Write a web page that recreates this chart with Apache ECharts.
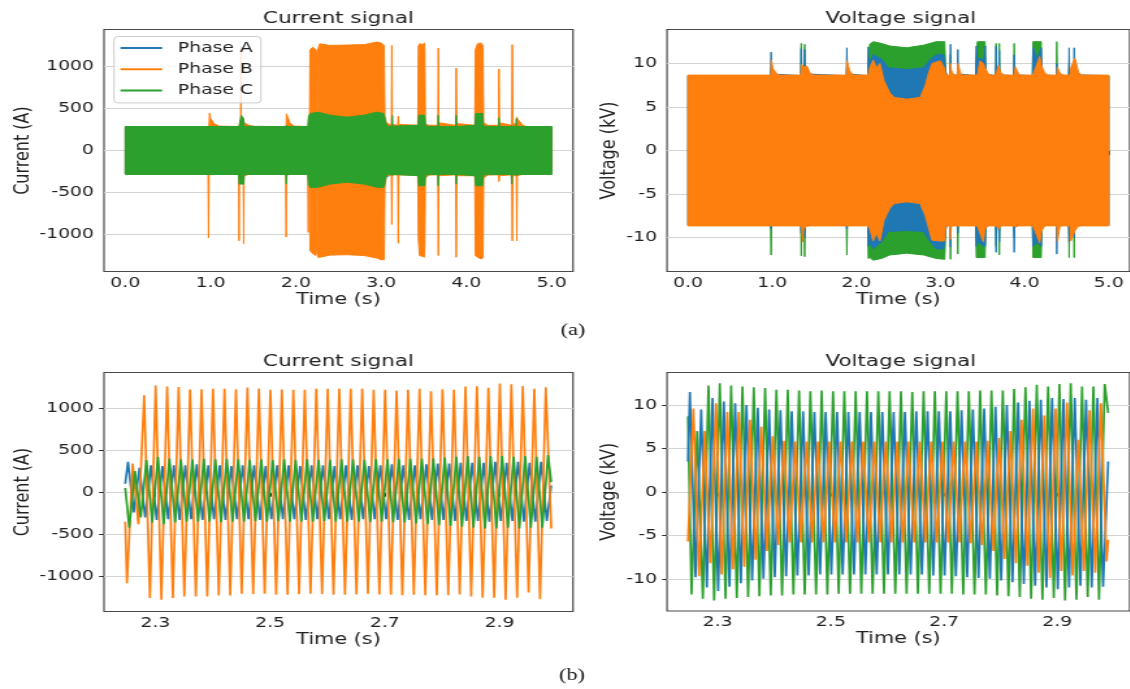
<!DOCTYPE html>
<html>
<head>
<meta charset="utf-8">
<script src="https://cdn.jsdelivr.net/npm/echarts@6/dist/echarts.min.js"></script>
<style>
  html, body { margin: 0; padding: 0; background: #fff; overflow: hidden; width: 1130px; height: 689px; }
  /* the figure is laid out narrow and widened horizontally as a whole */
  #chart { width: 869.23px; height: 689px; transform: scaleX(1.3); transform-origin: 0 0; }
</style>
</head>
<body>
<div id="chart"></div>
<script>
// ---------------- data ----------------
const PHASES = ['Phase A', 'Phase B', 'Phase C'];
const TIME_TICKS_FULL = [0, 1, 2, 3, 4, 5];
const TIME_TICKS_ZOOM = [2.3, 2.5, 2.7, 2.9];
const CURRENT_TICKS = [-1000, -500, 0, 500, 1000];
const VOLTAGE_TICKS = [-10, -5, 0, 5, 10];

// (a) whole record, 0-5 s: envelope of each phase as [time s, upper, lower]
const curA_env = [
  [0.000, 275, -275], [2.150, 275, -275], [2.170, 350, -350], [3.030, 350, -350],
  [3.060, 300, -310], [3.100, 275, -300], [3.120, 275, -275], [5.000, 275, -275]
];
const curB_env = [
  [0.000, 280, -280], [0.970, 280, -280], [0.976, 290, -1040], [0.982, 290, -285], [0.988, 445, -285],
  [1.000, 380, -285], [1.040, 320, -280], [1.100, 290, -280],
  [1.330, 285, -280], [1.334, 290, -1075], [1.338, 300, -300], [1.352, 380, -300], [1.356, 1230, -300],
  [1.360, 400, -300], [1.383, 380, -320], [1.388, 360, -1110], [1.393, 330, -300], [1.450, 300, -285], [1.520, 285, -280],
  [1.880, 285, -280], [1.886, 300, -1030], [1.890, 437, -290], [1.930, 330, -285], [1.980, 290, -280],
  [2.140, 285, -280], [2.146, 300, -975], [2.150, 400, -300], [2.160, 380, -300], [2.166, 1200, -1190],
  [2.200, 1230, -1230], [2.236, 1200, -1250], [2.242, 1180, -1200], [2.246, 300, -300], [2.252, 300, -300],
  [2.258, 1200, -1270], [2.280, 1270, -1270], [2.400, 1250, -1245], [2.600, 1255, -1240], [2.800, 1260, -1250],
  [2.950, 1290, -1280], [3.000, 1280, -1300], [3.036, 1250, -1300], [3.044, 420, -450], [3.060, 330, -300], [3.120, 300, -290],
  [3.125, 1250, -881], [3.131, 310, -290], [3.195, 300, -290], [3.201, 410, -1103], [3.207, 310, -290], [3.430, 300, -290],
  [3.436, 1240, -1050], [3.450, 1270, -1250], [3.490, 1260, -1260], [3.506, 1280, -1270], [3.512, 1200, -1100],
  [3.518, 320, -330], [3.560, 300, -290],
  [3.665, 300, -290], [3.671, 1220, -1250], [3.677, 330, -300], [3.875, 300, -290], [3.881, 980, -1270], [3.887, 320, -300],
  [4.098, 300, -300], [4.105, 1200, -1250], [4.130, 1270, -1270], [4.170, 1280, -1290], [4.195, 1250, -1280],
  [4.202, 330, -330], [4.250, 300, -290],
  [4.376, 300, -290], [4.382, 970, -370], [4.388, 330, -300],
  [4.532, 300, -290], [4.538, 1260, -1075], [4.544, 330, -300], [4.585, 300, -300], [4.591, 400, -1075],
  [4.597, 380, -300], [4.650, 310, -285], [4.700, 285, -280], [5.000, 280, -280]
];
const curC_env = [
  [0.000, 285, -285], [1.330, 285, -285], [1.336, 300, -400], [1.360, 417, -400], [1.386, 380, -400],
  [1.394, 300, -300], [1.400, 288, -285],
  [1.884, 285, -285], [1.890, 300, -397], [1.896, 285, -285],
  [2.140, 285, -285], [2.150, 410, -410], [2.170, 440, -440], [2.260, 456, -437], [2.400, 420, -400],
  [2.600, 397, -377], [2.800, 420, -400], [2.950, 456, -437], [3.030, 440, -440], [3.050, 350, -350], [3.070, 290, -285],
  [3.124, 290, -285], [3.130, 417, -300], [3.136, 290, -285],
  [3.434, 300, -300], [3.440, 420, -420], [3.510, 420, -420], [3.520, 290, -290],
  [3.665, 285, -285], [3.671, 420, -420], [3.677, 285, -285],
  [3.875, 285, -285], [3.881, 420, -400], [3.887, 285, -285],
  [4.100, 300, -300], [4.110, 440, -420], [4.190, 440, -420], [4.200, 290, -290],
  [4.376, 285, -285], [4.382, 390, -290], [4.388, 285, -285],
  [4.526, 285, -285], [4.532, 300, -400], [4.538, 285, -285],
  [4.580, 285, -285], [4.586, 380, -300], [4.592, 285, -285],
  [5.000, 285, -285]
];

const volA_env = [
  [0.000, 8.6, -8.6],
  [0.981, 8.6, -8.6], [0.987, 11.3, -9.0], [0.993, 8.8, -8.6],
  [1.338, 8.6, -8.6], [1.344, 11.7, -9.5], [1.350, 9.0, -8.6], [1.380, 9.0, -8.6], [1.386, 11.6, -10.0], [1.392, 8.8, -8.6],
  [1.882, 8.6, -8.6], [1.888, 11.8, -9.0], [1.894, 8.8, -8.6],
  [2.136, 8.6, -8.6], [2.142, 11.9, -11.0], [2.150, 10.0, -10.5], [2.200, 11.0, -11.3], [2.300, 10.5, -10.5],
  [2.380, 9.5, -9.3], [2.600, 9.3, -9.2], [2.800, 9.5, -9.3], [2.880, 10.5, -10.5], [2.950, 11.0, -11.3],
  [3.040, 11.0, -11.3], [3.060, 9.0, -9.0], [3.080, 8.6, -8.6],
  [3.114, 8.6, -8.6], [3.120, 12.2, -11.1], [3.126, 8.8, -8.6], [3.201, 8.6, -8.6], [3.207, 11.6, -9.5], [3.213, 8.8, -8.6],
  [3.420, 8.6, -8.6], [3.427, 12.0, -11.0], [3.440, 10.5, -10.5], [3.520, 10.5, -11.0], [3.533, 12.0, -11.0], [3.540, 8.8, -8.6],
  [3.656, 8.6, -8.6], [3.662, 12.0, -11.7], [3.668, 9.0, -8.8], [3.694, 8.6, -8.6], [3.700, 11.5, -10.5], [3.706, 8.7, -8.6],
  [3.871, 8.6, -8.6], [3.877, 11.0, -11.7], [3.883, 8.7, -8.6],
  [4.094, 8.6, -8.6], [4.100, 11.8, -11.0], [4.150, 10.5, -10.5], [4.198, 11.8, -11.0], [4.205, 8.7, -8.6],
  [4.377, 8.6, -8.6], [4.383, 10.0, -11.9], [4.389, 8.7, -8.6],
  [4.524, 8.6, -8.6], [4.530, 11.8, -10.5], [4.536, 8.7, -8.6], [4.584, 8.6, -8.6], [4.590, 11.8, -10.0], [4.596, 8.7, -8.6],
  [5.000, 8.6, -8.6]
];
const volB_env = [
  [0.000, 8.66, -8.66],
  [0.984, 8.66, -8.66], [0.990, 10.4, -8.66], [1.010, 9.4, -8.66], [1.050, 8.85, -8.66], [1.080, 8.66, -8.66],
  [1.340, 8.66, -8.66], [1.350, 9.9, -8.8], [1.366, 9.7, -10.5], [1.372, 9.6, -9.0], [1.413, 9.7, -8.7],
  [1.450, 8.9, -8.66], [1.490, 8.66, -8.66],
  [1.884, 8.66, -8.66], [1.890, 10.3, -8.66], [1.920, 9.2, -8.66], [1.960, 8.66, -8.66],
  [2.140, 8.66, -8.66], [2.160, 9.5, -9.0], [2.200, 10.4, -10.4], [2.240, 9.5, -9.5], [2.280, 10.0, -10.4],
  [2.330, 8.0, -8.0], [2.400, 6.6, -6.6], [2.450, 6.1, -6.1], [2.600, 5.9, -5.9], [2.760, 6.1, -6.1],
  [2.820, 7.5, -7.5], [2.860, 8.9, -8.9], [2.900, 10.0, -10.3], [3.000, 10.3, -10.4], [3.045, 9.5, -10.4],
  [3.060, 8.8, -8.8], [3.090, 8.66, -8.66],
  [3.114, 8.66, -8.66], [3.120, 10.0, -10.2], [3.130, 9.2, -8.7], [3.160, 8.66, -8.66],
  [3.200, 8.66, -8.66], [3.207, 10.0, -8.7], [3.240, 8.8, -8.66], [3.270, 8.66, -8.66],
  [3.440, 8.66, -8.66], [3.470, 10.3, -9.5], [3.510, 10.0, -10.5], [3.530, 9.5, -9.0], [3.570, 8.8, -8.66], [3.600, 8.66, -8.66],
  [3.660, 8.66, -8.66], [3.690, 9.8, -9.0], [3.720, 8.9, -8.66], [3.760, 8.66, -8.66],
  [3.877, 8.66, -8.66], [3.890, 9.6, -8.8], [3.930, 8.8, -8.66], [3.960, 8.66, -8.66],
  [4.100, 8.66, -8.66], [4.180, 10.8, -10.6], [4.200, 9.8, -9.3], [4.240, 8.9, -8.66], [4.280, 8.66, -8.66],
  [4.383, 8.66, -8.66], [4.390, 9.6, -10.5], [4.420, 8.9, -8.7], [4.460, 8.66, -8.66],
  [4.545, 8.66, -8.66], [4.550, 9.5, -10.4], [4.600, 10.6, -9.2], [4.640, 9.0, -8.7], [4.680, 8.66, -8.66],
  [5.000, 8.66, -8.66]
];
const volC_env = [
  [0.000, 8.6, -8.6],
  [0.981, 8.6, -8.6], [0.987, 9.5, -12.0], [0.993, 8.6, -8.6],
  [1.340, 8.6, -8.6], [1.346, 12.3, -12.1], [1.352, 9.0, -9.0], [1.380, 9.0, -9.0], [1.386, 12.2, -12.2], [1.392, 8.6, -8.6],
  [1.882, 8.6, -8.6], [1.888, 9.5, -12.0], [1.894, 8.6, -8.6],
  [2.136, 8.6, -8.6], [2.142, 10.0, -12.4], [2.160, 12.2, -12.3], [2.200, 12.5, -12.6], [2.300, 12.3, -12.4],
  [2.400, 12.0, -12.0], [2.600, 11.8, -11.8], [2.800, 12.1, -12.0], [2.950, 12.5, -12.4], [3.050, 12.5, -12.5],
  [3.065, 9.0, -9.0], [3.080, 8.6, -8.6],
  [3.114, 8.6, -8.6], [3.120, 11.0, -12.5], [3.126, 8.6, -8.6], [3.201, 8.6, -8.6], [3.207, 9.5, -11.9], [3.213, 8.6, -8.6],
  [3.420, 8.6, -8.6], [3.427, 11.0, -12.3], [3.440, 12.5, -12.3], [3.530, 12.5, -12.3], [3.540, 8.6, -8.6],
  [3.656, 8.6, -8.6], [3.662, 12.3, -11.0], [3.668, 8.6, -8.6], [3.694, 8.6, -8.6], [3.700, 12.3, -12.0], [3.706, 8.6, -8.6],
  [3.871, 8.6, -8.6], [3.877, 12.3, -10.0], [3.883, 8.6, -8.6],
  [4.094, 8.6, -8.6], [4.100, 12.5, -12.3], [4.198, 12.5, -12.3], [4.205, 8.6, -8.6],
  [4.377, 8.6, -8.6], [4.383, 12.5, -10.0], [4.389, 8.6, -8.6],
  [4.524, 8.6, -8.6], [4.530, 10.0, -12.3], [4.536, 8.6, -8.6], [4.584, 8.6, -8.6], [4.590, 10.0, -12.3], [4.596, 8.6, -8.6],
  [5.000, 8.6, -8.6]
];

// (b) 2.25-2.99 s detail: successive peak values of each 50 Hz waveform.
// first[] starts at t0, second[] half a cycle later, alternating.
const HALF_CYCLE = 0.01;
const curA_wave = {
  lead: [2.2475, 100], t0: 2.2523, tail: [2.99, 80],
  first:  [360, 290, 320, 310, 320, 320, 330, 320, 320, 310, 320, 320, 310, 320, 320, 310, 320, 320, 310,
           320, 320, 310, 320, 330, 320, 320, 330, 340, 340, 350, 350, 350, 360, 350, 360, 350, 360],
  second: [-240, -300, -330, -320, -330, -320, -330, -320, -330, -320, -320, -330, -320, -320, -320, -330,
           -320, -320, -320, -330, -320, -320, -320, -330, -330, -320, -330, -330, -340, -340, -340, -350,
           -340, -340, -350, -350, -340]
};
const curB_wave = {
  lead: [2.2475, -350], t0: 2.2505, tail: [2.99, -430],
  first:  [-1080, -380, -1256, -1276, -1256, -1237, -1237, -1237, -1224, -1224, -1205, -1209, -1205, -1217,
           -1217, -1209, -1205, -1209, -1217, -1217, -1213, -1205, -1213, -1217, -1221, -1217, -1221, -1221,
           -1221, -1213, -1237, -1252, -1252, -1276, -1252, -1189, -1268],
  second: [340, 1150, 1265, 1253, 1249, 1218, 1222, 1226, 1226, 1222, 1241, 1230, 1214, 1218, 1214, 1214,
           1226, 1226, 1226, 1226, 1226, 1214, 1214, 1206, 1214, 1226, 1198, 1222, 1214, 1253, 1257, 1238,
           1288, 1280, 1261, 1226, 1245]
};
const curC_wave = {
  lead: [2.2475, 50], t0: 2.2545, tail: [2.99, 120],
  first:  [-420, -300, -360, -380, -360, -350, -350, -350, -355, -350, -350, -345, -350, -345, -350, -350,
           -350, -345, -350, -350, -350, -355, -350, -355, -360, -370, -380, -390, -400, -410, -420, -430,
           -430, -420, -430, -420, -420],
  second: [250, 380, 420, 400, 390, 390, 395, 390, 395, 390, 385, 390, 385, 390, 385, 390, 385, 385, 390,
           390, 385, 390, 390, 395, 395, 400, 400, 410, 420, 430, 420, 430, 430, 420, 430, 420, 440]
};
const volA_wave = {
  lead: [2.2475, 3.5], t0: 2.2509, tail: [2.99, 3.5],
  first:  [11.5, 9.5, 10.8, 10.4, 10.2, 10.0, 9.7, 9.5, 9.4, 9.3, 9.3, 9.2, 9.2, 9.2, 9.2, 9.2, 9.2, 9.2,
           9.2, 9.2, 9.3, 9.3, 9.3, 9.3, 9.4, 9.5, 9.6, 9.8, 10.0, 10.3, 10.5, 10.6, 10.8, 10.7, 10.8, 10.6, 10.8],
  second: [-9.8, -11.0, -11.4, -10.9, -10.5, -10.2, -10.0, -9.8, -9.7, -9.6, -9.6, -9.5, -9.5, -9.5, -9.5,
           -9.5, -9.5, -9.5, -9.5, -9.5, -9.5, -9.6, -9.6, -9.7, -9.8, -9.9, -10.0, -10.2, -10.4, -10.6,
           -10.8, -11.0, -11.2, -11.0, -10.8, -11.0, -10.9]
};
const volB_wave = {
  lead: [2.2475, -5.7], t0: 2.2571, tail: [2.99, -5.5],
  first:  [9.6, 7.0, 10.2, 9.2, 9.2, 8.3, 7.5, 6.4, 5.9, 5.8, 5.8, 5.8, 5.8, 5.8, 5.8, 5.8, 5.8, 5.8, 5.8,
           5.8, 5.8, 5.8, 5.8, 5.8, 5.8, 5.8, 5.9, 6.2, 7.0, 8.3, 9.6, 8.8, 9.6, 10.3, 6.0, 9.4, 10.2],
  second: [-9.7, -8.2, -9.5, -8.9, -8.6, -7.8, -6.8, -6.1, -5.8, -5.8, -5.8, -5.8, -5.8, -5.8, -5.8, -5.8,
           -5.8, -5.8, -5.8, -5.8, -5.8, -5.8, -5.8, -5.8, -5.9, -6.1, -6.8, -7.7, -8.2, -8.5, -9.3, -9.9,
           -9.1, -9.6, -9.1, -9.3, -8.0]
};
const volC_wave = {
  lead: [2.2475, 8.7], t0: 2.2538, tail: [2.99, 9.1],
  first:  [-11.8, -12.3, -12.5, -12.3, -12.2, -12.1, -12.0, -11.9, -11.9, -11.8, -11.8, -11.8, -11.8, -11.7,
           -11.7, -11.7, -11.7, -11.7, -11.7, -11.7, -11.7, -11.7, -11.7, -11.7, -11.8, -11.8, -11.8, -11.9,
           -12.0, -12.1, -12.3, -12.4, -12.2, -12.5, -12.4, -12.1, -12.4],
  second: [7.0, 12.26, 12.5, 12.26, 12.15, 12.04, 11.96, 11.76, 11.76, 11.69, 11.58, 11.69, 11.58, 11.58,
           11.58, 11.58, 11.58, 11.58, 11.58, 11.5, 11.58, 11.58, 11.58, 11.58, 11.58, 11.69, 11.69, 11.69,
           11.84, 12.04, 12.34, 12.15, 12.42, 12.5, 12.15, 12.15, 12.42]
};

// ---------------- layout ----------------
const S = 1.3;                 // horizontal widening of the page
const X = v => v / S;          // page x (px) -> chart x
const COLORS = { 'Phase A': '#1f77b4', 'Phase B': '#ff7f0e', 'Phase C': '#2ca02c' };
const FONT = 'DejaVu Sans';
const INK = '#222';

const PANELS = [
  { l: 104, r: 573,    t: 29.5,  b: 271.5, x: [-0.25, 5.25],  xt: TIME_TICKS_FULL, y: [-1440, 1440], yt: CURRENT_TICKS, title: 'Current signal', yname: 'Current (A)',  ygap: 51.5 },
  { l: 667, r: 1134.5, t: 29.5,  b: 271.5, x: [-0.25, 5.25],  xt: TIME_TICKS_FULL, y: [-13.9, 13.9], yt: VOLTAGE_TICKS, title: 'Voltage signal', yname: 'Voltage (kV)', ygap: 36 },
  { l: 104, r: 573,    t: 372.5, b: 611.5, x: [2.2105, 3.028], xt: TIME_TICKS_ZOOM, y: [-1415, 1420], yt: CURRENT_TICKS, title: 'Current signal', yname: 'Current (A)',  ygap: 51.5 },
  { l: 667, r: 1134.5, t: 372.5, b: 611,   x: [2.2105, 3.028], xt: TIME_TICKS_ZOOM, y: [-13.7, 13.75], yt: VOLTAGE_TICKS, title: 'Voltage signal', yname: 'Voltage (kV)', ygap: 36 }
];

function wave(w) {
  const out = [w.lead];
  const n = Math.max(w.first.length, w.second.length);
  for (let i = 0; i < n; i++) {
    if (i < w.first.length) out.push([+(w.t0 + 2 * i * HALF_CYCLE).toFixed(4), w.first[i]]);
    if (i < w.second.length) out.push([+(w.t0 + (2 * i + 1) * HALF_CYCLE).toFixed(4), w.second[i]]);
  }
  out.push(w.tail);
  return out;
}

// dense record drawn as the filled band between its upper and lower envelope
function band(name, env, idx, z) {
  const color = COLORS[name];
  return {
    name, type: 'custom', coordinateSystem: 'cartesian2d', xAxisIndex: idx, yAxisIndex: idx,
    data: env, encode: { x: 0, y: [1, 2] }, z, silent: true, animation: false,
    itemStyle: { color },
    renderItem(params, api) {
      if (params.dataIndexInside !== 0) return null;
      const n = params.dataInsideLength;
      const top = [], bot = [];
      for (let i = 0; i < n; i++) {
        const t = api.value(0, i);
        top.push(api.coord([t, api.value(1, i)]));
        bot.push(api.coord([t, api.value(2, i)]));
      }
      return { type: 'polygon', shape: { points: top.concat(bot.reverse()) },
               style: { fill: color, stroke: color, lineWidth: 1 } };
    }
  };
}

function trace(name, w, idx, z) {
  const color = COLORS[name];
  return {
    name, type: 'line', xAxisIndex: idx, yAxisIndex: idx, data: wave(w), z,
    showSymbol: false, symbol: 'none', silent: true, animation: false,
    itemStyle: { color }, lineStyle: { color, width: 1.7 }
  };
}

function gridLines(idx, values) {
  return {
    type: 'line', xAxisIndex: idx, yAxisIndex: idx, data: [], z: 1, silent: true,
    markLine: { z: 1, silent: true, symbol: 'none', animation: false, label: { show: false },
                lineStyle: { color: '#d4d4d4', width: 1, type: 'solid' },
                data: values.map(v => ({ yAxis: v })) }
  };
}

const tickStyle = { color: '#333', width: 1 };
const labelText = { fontFamily: FONT, fontSize: 14.5, color: INK };

const option = {
  animation: false,
  backgroundColor: '#fff',
  grid: PANELS.map(p => ({
    left: X(p.l), top: p.t, width: X(p.r - p.l), height: p.b - p.t,
    show: true, borderColor: '#4a4a4a', borderWidth: 1.2, backgroundColor: 'transparent'
  })),
  xAxis: PANELS.map((p, i) => ({
    gridIndex: i, type: 'value', min: p.x[0], max: p.x[1],
    axisLine: { show: false },
    axisTick: { show: true, length: 4.5, customValues: p.xt, lineStyle: tickStyle },
    axisLabel: { ...labelText, margin: 4, customValues: p.xt, formatter: v => v.toFixed(1) },
    splitLine: { show: false },
    name: 'Time (s)', nameLocation: 'middle', nameGap: 20,
    nameTextStyle: { fontFamily: FONT, fontSize: 16, color: INK }
  })),
  yAxis: PANELS.map((p, i) => ({
    gridIndex: i, type: 'value', min: p.y[0], max: p.y[1],
    axisLine: { show: false },
    axisTick: { show: true, length: X(5), customValues: p.yt, lineStyle: tickStyle },
    axisLabel: { ...labelText, margin: X(10), customValues: p.yt, formatter: v => String(v) },
    splitLine: { show: false },
    name: p.yname, nameLocation: 'middle', nameGap: p.ygap,
    nameTextStyle: { fontFamily: FONT, fontSize: 16, color: INK }
  })),
  legend: {
    data: PHASES.map(n => ({ name: n, icon: 'rect' })),
    orient: 'vertical', left: X(114), top: 36.5,
    itemWidth: 32, itemHeight: 2, itemGap: 6.2,
    padding: [4, 6, 5, 5],
    borderColor: '#cccccc', borderWidth: 1, borderRadius: 3,
    backgroundColor: 'rgba(255,255,255,0.8)',
    selectedMode: false,
    textStyle: { fontFamily: FONT, fontSize: 14.5, color: INK, padding: [0, 0, 0, 7] }
  },
  graphic: [
    ...PANELS.map(p => ({
      type: 'text', x: X((p.l + p.r) / 2), y: p.t - 10.5, silent: true,
      style: { text: p.title, font: '16.5px "DejaVu Sans"', fill: INK, align: 'center', verticalAlign: 'middle' }
    })),
    { type: 'text', x: X(573), y: 331, silent: true,
      style: { text: '(a)', font: '17px "Liberation Serif"', fill: '#111', align: 'center', verticalAlign: 'middle' } },
    { type: 'text', x: X(572), y: 676, silent: true,
      style: { text: '(b)', font: '17px "Liberation Serif"', fill: '#111', align: 'center', verticalAlign: 'middle' } }
  ],
  series: [
    gridLines(0, CURRENT_TICKS), gridLines(1, VOLTAGE_TICKS), gridLines(2, CURRENT_TICKS), gridLines(3, VOLTAGE_TICKS),
    // (a) current: A, B, C ; voltage: C, A, B
    band('Phase A', curA_env, 0, 2), band('Phase B', curB_env, 0, 3), band('Phase C', curC_env, 0, 4),
    band('Phase C', volC_env, 1, 2), band('Phase A', volA_env, 1, 3), band('Phase B', volB_env, 1, 4),
    // (b) detail
    trace('Phase A', curA_wave, 2, 2), trace('Phase B', curB_wave, 2, 3), trace('Phase C', curC_wave, 2, 4),
    trace('Phase C', volC_wave, 3, 2), trace('Phase A', volA_wave, 3, 3), trace('Phase B', volB_wave, 3, 4)
  ]
};

const chart = echarts.init(document.getElementById('chart'), null, { renderer: 'canvas' });
chart.setOption(option);
</script>
</body>
</html>
